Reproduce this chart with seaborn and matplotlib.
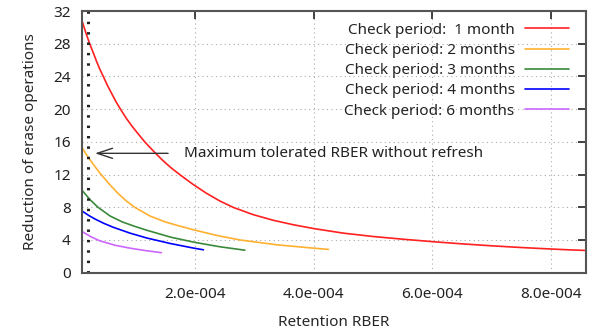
import numpy as np
import pandas as pd
import matplotlib
matplotlib.use("Agg")
import matplotlib.pyplot as plt
import seaborn as sns
from matplotlib.ticker import FuncFormatter

# values (x = retention RBER, in units of 1e-4)
red_x = [0.1, 0.16, 0.22, 0.28, 0.335, 0.39, 0.45, 0.52, 0.595, 0.665, 0.74, 0.84, 0.945,
         1.05, 1.15, 1.3, 1.445, 1.59, 1.74, 1.965, 2.19, 2.415, 2.64, 2.98, 3.32, 3.66,
         4.0, 4.5, 5.0, 5.5, 6.0, 6.5, 7.0, 7.5, 8.0, 8.3, 8.6]
red_y = [30.6, 29.24, 28.0, 26.9, 25.87, 24.91, 24.0, 22.9, 21.86, 20.9, 20.0, 18.86, 17.82,
         16.88, 16.0, 14.84, 13.79, 12.85, 12.0, 10.8, 9.72, 8.78, 8.0, 7.1, 6.41, 5.86,
         5.4, 4.84, 4.43, 4.1, 3.8, 3.53, 3.29, 3.08, 2.9, 2.8, 2.72]

orange_x = [0.1, 0.17, 0.245, 0.32, 0.39, 0.54, 0.685, 0.83, 0.98, 1.235, 1.49, 1.745,
            2.0, 2.38, 2.76, 3.38, 4.0, 4.25]
orange_y = [15.2, 14.38, 13.61, 12.88, 12.2, 10.93, 9.8, 8.82, 8.0, 6.94, 6.22, 5.69,
            5.2, 4.53, 4.0, 3.41, 3.0, 2.85]

green_x = [0.1, 0.23, 0.36, 0.565, 0.77, 0.975, 1.18, 1.59, 2.0, 2.42, 2.84]
green_y = [10.0, 8.9, 8.0, 6.93, 6.21, 5.68, 5.2, 4.34, 3.7, 3.17, 2.75]

blue_x = [0.1, 0.2, 0.3, 0.46, 0.62, 0.9, 1.18, 1.58, 1.98, 2.14]
blue_y = [7.5, 7.02, 6.6, 6.03, 5.55, 4.84, 4.25, 3.57, 3.0, 2.8]

purple_x = [0.1, 0.245, 0.39, 0.645, 0.9, 1.165, 1.43]
purple_y = [5.0, 4.38, 3.9, 3.36, 3.0, 2.70, 2.45]

labels = ["Check period:  1 month", "Check period: 2 months", "Check period: 3 months",
          "Check period: 4 months", "Check period: 6 months"]
colors = ["#ff2020", "#ffb030", "#3a8a3a", "#0000ff", "#cc66ff"]

scale = 1e-4
max_rber = 0.19
arrow_y = 14.6
arrow_head_x = 0.31
note_x = 1.81
note = "Maximum tolerated RBER without refresh"

x_ticks = [2, 4, 6, 8]
y_ticks = list(range(0, 33, 4))

sns.set_style("white")
plt.rcParams['font.family'] = ['Noto Sans', 'DejaVu Sans']
plt.rcParams['text.color'] = '#222222'

fig = plt.figure(figsize=(5.98, 3.35), dpi=100)
ax = fig.add_axes([0.1371, 0.186, 0.8429, 0.781])

series = [(red_x, red_y), (orange_x, orange_y), (green_x, green_y),
          (blue_x, blue_y), (purple_x, purple_y)]
for (xs, ys), lab, col in zip(series, labels, colors):
    df = pd.DataFrame({"x": np.array(xs) * scale, "y": ys})
    sns.lineplot(data=df, x="x", y="y", color=col, label=lab, ax=ax,
                 linewidth=1.2, estimator=None, sort=True)

# maximum tolerated RBER marker
ax.axvline(max_rber * scale, color='#222222', linewidth=2.2, linestyle=(0, (0.8, 2.6)))

ax.annotate(note, xy=(arrow_head_x * scale, arrow_y), xytext=(note_x * scale, arrow_y),
            ha='left', va='center', fontsize=11, color='#222222',
            arrowprops=dict(arrowstyle='->, head_length=1.0, head_width=0.33',
                            color='#333333', lw=1.0, shrinkA=9, shrinkB=0))

ax.set_xlim(0.09 * scale, 8.6 * scale)
ax.set_ylim(0, 32)
ax.set_xticks([t * scale for t in x_ticks])
ax.set_yticks(y_ticks)
ax.xaxis.set_major_formatter(FuncFormatter(lambda v, p: "{:.1e}".format(v).replace("e-0", "e-00")))

ax.grid(True, color='#aaaaaa', linestyle=(0, (1, 3)), linewidth=0.8)
ax.tick_params(direction='in', top=True, right=True, length=6, width=1.2,
               color='#222222', labelsize=11, labelcolor='#222222')
ax.tick_params(axis='x', pad=10)
ax.tick_params(axis='y', pad=8)
for s in ax.spines.values():
    s.set_color('#555555')
    s.set_linewidth(1.5)

ax.set_xlabel("Retention RBER", fontsize=11, labelpad=10)
ax.set_ylabel("Reduction of erase operations", fontsize=11, labelpad=11)

ax.legend(loc='upper right', bbox_to_anchor=(0.966, 0.955), frameon=False,
          markerfirst=False, fontsize=11, handlelength=2.9, handletextpad=0.65,
          labelspacing=0.34, borderpad=0, borderaxespad=0)

fig.savefig("out.png", dpi=100)
